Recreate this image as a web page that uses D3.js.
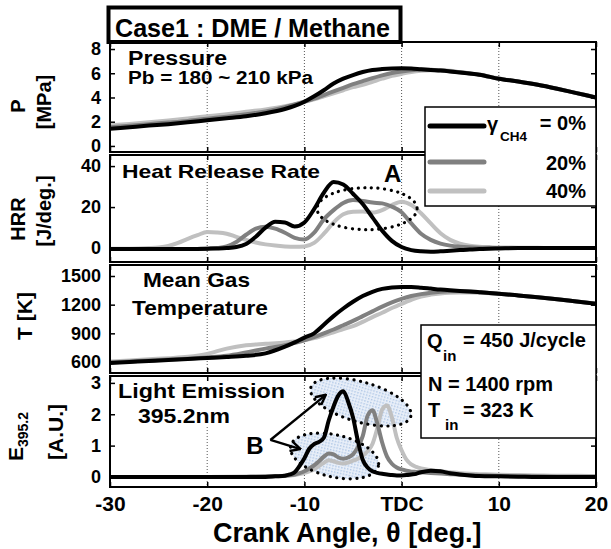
<!DOCTYPE html>
<html>
<head>
<meta charset="utf-8">
<script src="https://cdn.jsdelivr.net/npm/d3@7/dist/d3.min.js"></script>
<style>
  body { margin: 0; background: #fff; }
  svg { display: block; }
  text { font-family: "Liberation Sans", Arial, sans-serif; font-weight: bold; fill: #000; }
</style>
</head>
<body>
<svg id="chart" width="611" height="549"></svg>
<script>
// ---- data ----
var xTicks = [-30, -20, -10, 0, 10, 20];
var xTickLabels = ["-30", "-20", "-10", "TDC", "10", "20"];
var gridTicks = [-20, -10, 0, 10];
var seriesNames = ["0%", "20%", "40%"];

// pressure [MPa] and mean gas temperature [K] share this angle grid
var pTheta = [-30, -28, -26, -24, -22, -20, -18, -16, -14, -12, -11, -10, -9, -8, -7, -6, -5, -4, -3, -2, -1, 0, 1, 2, 3, 4, 5, 6, 7, 8, 10, 12, 14, 16, 18, 20];
var p0  = [1.42, 1.55, 1.68, 1.80, 1.95, 2.12, 2.28, 2.45, 2.70, 3.05, 3.30, 3.65, 4.10, 4.60, 5.15, 5.55, 5.85, 6.10, 6.27, 6.35, 6.40, 6.42, 6.40, 6.33, 6.27, 6.22, 6.15, 6.07, 5.98, 5.88, 5.55, 5.32, 5.05, 4.72, 4.36, 4.00];
var p20 = [1.55, 1.67, 1.80, 1.93, 2.07, 2.25, 2.42, 2.62, 2.85, 3.20, 3.42, 3.65, 3.90, 4.20, 4.50, 4.80, 5.10, 5.35, 5.60, 5.83, 6.02, 6.15, 6.25, 6.30, 6.29, 6.24, 6.17, 6.08, 5.98, 5.88, 5.55, 5.32, 5.05, 4.72, 4.36, 4.00];
var p40 = [1.70, 1.82, 1.95, 2.10, 2.27, 2.45, 2.62, 2.82, 3.02, 3.28, 3.45, 3.65, 3.85, 4.10, 4.35, 4.60, 4.85, 5.05, 5.30, 5.55, 5.78, 5.95, 6.10, 6.20, 6.25, 6.25, 6.20, 6.10, 6.00, 5.90, 5.57, 5.33, 5.06, 4.73, 4.37, 4.02];

var t0  = [590, 600, 610, 620, 632, 642, 652, 665, 690, 760, 805, 855, 900, 990, 1080, 1160, 1230, 1290, 1335, 1365, 1380, 1385, 1385, 1378, 1368, 1358, 1350, 1343, 1337, 1330, 1315, 1297, 1278, 1257, 1233, 1210];
var t20 = [595, 605, 615, 625, 635, 648, 665, 700, 740, 775, 800, 827, 860, 900, 940, 985, 1030, 1080, 1130, 1180, 1225, 1261, 1290, 1310, 1325, 1335, 1340, 1340, 1337, 1331, 1315, 1297, 1278, 1257, 1233, 1210];
var t40 = [605, 615, 628, 640, 655, 685, 740, 775, 790, 805, 815, 830, 850, 880, 910, 945, 975, 1020, 1070, 1115, 1165, 1209, 1250, 1285, 1305, 1318, 1325, 1328, 1328, 1325, 1315, 1297, 1278, 1257, 1234, 1212];

// heat release rate [J/deg.]
var hTheta = [-30, -28, -26, -25, -24, -23, -22, -21, -20, -19, -18, -17, -16, -15, -14, -13, -12, -11, -10, -9, -8, -7, -6, -5, -4, -3, -2, -1, 0, 1, 2, 3, 4, 5, 6, 7, 8, 9, 10, 12, 14, 16, 18, 20];
var h0  = [-0.5, -0.5, -0.5, -0.5, -0.5, -0.5, -0.5, -0.4, -0.3, -0.2, 0, 0.5, 2, 5.5, 10, 12.8, 12.5, 10.5, 12.5, 19, 27, 32.2, 31, 26.5, 21.5, 15, 8.5, 3.5, 0.5, -1, -1.6, -1.8, -1.6, -1.3, -1, -0.7, -0.5, -0.3, -0.2, 0, 0, 0, 0, 0];
var h20 = [-0.5, -0.5, -0.5, -0.5, -0.5, -0.5, -0.5, -0.4, -0.3, 0, 0.8, 3, 6.5, 9.5, 10.4, 9.5, 7.5, 5, 4.2, 7.5, 14, 18.5, 22, 23.4, 23, 22.2, 21.8, 20.2, 17.5, 12, 7, 4, 2.2, 1.2, 0.7, 0.4, 0.2, 0.1, 0, 0, 0, 0, 0, 0];
var h40 = [-0.3, -0.3, 0, 0.3, 1, 2.5, 4.5, 6.3, 7.8, 7.6, 7, 5.5, 4, 2.7, 1.8, 1.2, 0.8, 0.6, 0.8, 2.5, 7, 12.5, 16.5, 17.7, 17.8, 17.3, 18.5, 21, 22.6, 21, 17, 12, 7.2, 4, 2.2, 1.2, 0.7, 0.5, 0.3, 0.2, 0.1, 0, 0, 0];

// light emission at 395.2 nm [A.U.]
var eTheta = [-30, -25, -20, -16, -14, -13, -12, -11.5, -11, -10.5, -10, -9.5, -9, -8.5, -8, -7.5, -7, -6.5, -6, -5.5, -5, -4.5, -4, -3.5, -3, -2.5, -2, -1.5, -1, -0.5, 0, 0.5, 1, 1.5, 2, 3, 4, 5, 6, 7, 8, 10, 12, 14, 16, 18, 20];
var e0  = [0, 0, 0, 0, 0, 0.02, 0.04, 0.08, 0.15, 0.35, 0.6, 0.9, 1.05, 1.12, 1.25, 1.8, 2.25, 2.6, 2.73, 2.4, 1.9, 1.15, 0.55, 0.3, 0.18, 0.13, 0.1, 0.08, 0.06, 0.05, 0.05, 0.06, 0.08, 0.1, 0.15, 0.2, 0.18, 0.12, 0.08, 0.05, 0.03, 0.02, 0.01, 0, 0, 0, 0];
var e20 = [0, 0, 0, 0.01, 0.02, 0.03, 0.04, 0.06, 0.08, 0.12, 0.18, 0.27, 0.37, 0.5, 0.65, 0.75, 0.72, 0.62, 0.58, 0.62, 0.72, 0.95, 1.3, 1.95, 2.13, 1.7, 1.1, 0.65, 0.42, 0.3, 0.24, 0.2, 0.17, 0.16, 0.15, 0.13, 0.11, 0.09, 0.07, 0.06, 0.05, 0.03, 0.02, 0.02, 0.01, 0.01, 0.01];
var e40 = [0, 0, 0, 0, 0.01, 0.02, 0.03, 0.04, 0.06, 0.09, 0.13, 0.18, 0.25, 0.35, 0.45, 0.53, 0.5, 0.45, 0.43, 0.46, 0.52, 0.58, 0.68, 0.82, 1.05, 1.55, 2.15, 2.28, 1.9, 1.25, 0.85, 0.55, 0.4, 0.32, 0.27, 0.22, 0.18, 0.15, 0.12, 0.1, 0.09, 0.07, 0.06, 0.05, 0.04, 0.04, 0.03];

// ---- layout ----
var svg = d3.select("#chart");
var defs = svg.append("defs");
var x = d3.scaleLinear().domain([-30, 20]).range([110, 596]);
var lineColors = ["#000000", "#808080", "#c0c0c0"];   // 0%, 20%, 40%

var panels = [
  {y0: 42,  y1: 152, dom: [-0.5, 8.58],  ticks: [0, 2, 4, 6, 8],          theta: pTheta, series: [p0, p20, p40]},
  {y0: 155, y1: 262, dom: [-6.8, 45.4],  ticks: [0, 20, 40],             theta: hTheta, series: [h0, h20, h40]},
  {y0: 265, y1: 373, dom: [485, 1615],   ticks: [600, 900, 1200, 1500],  theta: pTheta, series: [t0, t20, t40]},
  {y0: 376, y1: 487, dom: [-0.32, 3.22], ticks: [0, 1, 2, 3],            theta: eTheta, series: [e0, e20, e40]}
];

var gridLayer = svg.append("g");
var underLayer = svg.append("g");
var curveLayer = svg.append("g");
var frameLayer = svg.append("g");
var overLayer = svg.append("g");

// stipple fill for the B regions
var pat = defs.append("pattern").attr("id", "stip").attr("width", 3).attr("height", 3)
  .attr("patternUnits", "userSpaceOnUse");
pat.append("rect").attr("width", 3).attr("height", 3).attr("fill", "#eaf0f9");
pat.append("rect").attr("width", 1.5).attr("height", 1.5).attr("fill", "#afc7e6");

defs.append("marker").attr("id", "arr").attr("viewBox", "0 0 12 12")
  .attr("refX", 11).attr("refY", 6).attr("markerWidth", 12).attr("markerHeight", 12)
  .attr("markerUnits", "userSpaceOnUse").attr("orient", "auto")
  .append("path").attr("d", "M1,1 L11,6 L1,11")
  .attr("fill", "none").attr("stroke", "#000").attr("stroke-width", 2.4);

panels.forEach(function(p, k) {
  var y = d3.scaleLinear().domain(p.dom).range([p.y1, p.y0]);
  p.y = y;

  defs.append("clipPath").attr("id", "clip" + k).append("rect")
    .attr("x", 110).attr("y", p.y0).attr("width", 486).attr("height", p.y1 - p.y0);

  gridLayer.append("g").selectAll("line").data(gridTicks).enter().append("line")
    .attr("x1", function(d) { return x(d); }).attr("x2", function(d) { return x(d); })
    .attr("y1", p.y0).attr("y2", p.y1)
    .attr("stroke", "#555").attr("stroke-width", 1).attr("stroke-dasharray", "1,2");

  var line = d3.line()
    .x(function(d, i) { return x(p.theta[i]); })
    .y(function(d) { return y(d); })
    .curve(d3.curveMonotoneX);

  // draw 40% first so black stays on top
  curveLayer.append("g").attr("clip-path", "url(#clip" + k + ")")
    .selectAll("path").data(p.series.slice().reverse()).enter().append("path")
    .attr("d", line)
    .attr("fill", "none")
    .attr("stroke", function(d, i) { return lineColors[2 - i]; })
    .attr("stroke-width", 4)
    .attr("stroke-linejoin", "round");

  // axes with inward ticks
  var ax = frameLayer.append("g");
  ax.append("g").attr("transform", "translate(110,0)")
    .call(d3.axisLeft(y).tickValues(p.ticks).tickSize(-5).tickPadding(9).tickFormat(d3.format("d")))
    .attr("font-size", null).attr("font-family", null)
    .selectAll("text").style("font-size", "18px");
  ax.append("g").attr("transform", "translate(596,0)")
    .call(d3.axisRight(y).tickValues(p.ticks).tickSize(-5).tickFormat(""));
  ax.append("g").attr("transform", "translate(0," + p.y0 + ")")
    .call(d3.axisTop(x).tickValues(xTicks).tickSize(-5).tickFormat(""));
  var bottom = d3.axisBottom(x).tickValues(xTicks).tickSize(-5).tickPadding(9)
    .tickFormat(function(d, i) { return k === panels.length - 1 ? xTickLabels[i] : ""; });
  ax.append("g").attr("transform", "translate(0," + p.y1 + ")").call(bottom)
    .attr("font-size", null).attr("font-family", null)
    .selectAll("text").style("font-size", "21px");
  ax.selectAll(".domain").remove();
  ax.selectAll(".tick line").attr("stroke", "#000").attr("stroke-width", 1.5);

  frameLayer.append("rect")
    .attr("x", 110).attr("y", p.y0).attr("width", 486).attr("height", p.y1 - p.y0)
    .attr("fill", "none").attr("stroke", "#000").attr("stroke-width", 2);
});

// ---- annotations ----
var P = panels;

// white box behind the light emission label
underLayer.append("rect").attr("x", 113).attr("y", 378).attr("width", 177).attr("height", 49).attr("fill", "#fff");

var blobsB = [
  {theta: -4.2, val: 2.39, rx: 52, ry: 20, rot: 16},
  {theta: -6.9, val: 0.67, rx: 45, ry: 21, rot: 13}
];
blobsB.forEach(function(b) {
  var t = "translate(" + x(b.theta) + "," + P[3].y(b.val) + ") rotate(" + b.rot + ")";
  underLayer.append("ellipse").attr("transform", t).attr("rx", b.rx).attr("ry", b.ry)
    .attr("fill", "url(#stip)");
  overLayer.append("ellipse").attr("transform", t).attr("rx", b.rx).attr("ry", b.ry)
    .attr("fill", "none").attr("stroke", "#000").attr("stroke-width", 3.2)
    .attr("stroke-linecap", "round").attr("stroke-dasharray", "0.1,6.5");
});

var ellipseA = {theta: -3.55, val: 19.2, rx: 50, ry: 21};
overLayer.append("ellipse")
  .attr("cx", x(ellipseA.theta)).attr("cy", P[1].y(ellipseA.val))
  .attr("rx", ellipseA.rx).attr("ry", ellipseA.ry)
  .attr("fill", "none").attr("stroke", "#000").attr("stroke-width", 3.2)
  .attr("stroke-linecap", "round").attr("stroke-dasharray", "0.1,6.5");
overLayer.append("text").attr("x", x(-0.93)).attr("y", P[1].y(32.3))
  .attr("text-anchor", "middle").style("font-size", "24px").text("A");

var arrowFrom = [-13.5, 1.18];
var arrowTo = [[-7.8, 2.62], [-10.4, 0.89]];
arrowTo.forEach(function(t) {
  overLayer.append("line")
    .attr("x1", x(arrowFrom[0])).attr("y1", P[3].y(arrowFrom[1]))
    .attr("x2", x(t[0])).attr("y2", P[3].y(t[1]))
    .attr("stroke", "#000").attr("stroke-width", 2.4).attr("marker-end", "url(#arr)");
});
overLayer.append("text").attr("x", x(-15.1)).attr("y", P[3].y(0.74))
  .attr("text-anchor", "middle").style("font-size", "24px").text("B");

// in-panel labels
function label(txt, px, py, size, len) {
  var t = overLayer.append("text").attr("x", px).attr("y", py).style("font-size", size + "px").text(txt);
  if (len) t.attr("textLength", len).attr("lengthAdjust", "spacingAndGlyphs");
  return t;
}
label("Pressure", 128, 65, 19.5, 99);
label("Pb = 180 ~ 210 kPa", 128, 84, 18, 185);
label("Heat Release Rate", 122, 178, 19, 198);
label("Mean Gas", 143, 287, 21, 107);
label("Temperature", 132, 315, 21, 136);
label("Light Emission", 118, 398, 21, 167);
label("395.2nm", 138, 423, 21, 92);

// title box
overLayer.append("rect").attr("x", 108.5).attr("y", 7.5).attr("width", 292).attr("height", 34.5)
  .attr("fill", "#fff").attr("stroke", "#000").attr("stroke-width", 4);
label("Case1 : DME / Methane", 115, 37, 25.5, 275);

// legend
overLayer.append("rect").attr("x", 425).attr("y", 107).attr("width", 171).attr("height", 99)
  .attr("fill", "#fff").attr("stroke", "#000").attr("stroke-width", 1.5);
var legY = [126, 162, 191];
overLayer.selectAll(".leg").data(seriesNames).enter().append("line")
  .attr("x1", 430).attr("x2", 484)
  .attr("y1", function(d, i) { return legY[i]; }).attr("y2", function(d, i) { return legY[i]; })
  .attr("stroke", function(d, i) { return lineColors[i]; })
  .attr("stroke-width", 5).attr("stroke-linecap", "round");
label("\u03b3", 487, 131, 20);
label("CH4", 500, 141, 13.5);
overLayer.selectAll(".legtxt").data(seriesNames).enter().append("text")
  .attr("x", 586).attr("y", function(d, i) { return [130, 170, 198][i]; })
  .attr("text-anchor", "end").style("font-size", "20px")
  .text(function(d, i) { return i === 0 ? "= " + d : d; });

// operating condition box
overLayer.append("rect").attr("x", 421).attr("y", 325).attr("width", 175).attr("height", 113)
  .attr("fill", "#fff").attr("stroke", "#000").attr("stroke-width", 1.5);
label("Q", 427, 348, 20);
label("in", 443, 361, 15);
label("= 450 J/cycle", 463, 347, 20);
label("N = 1400 rpm", 428, 391, 20);
label("T", 428, 417, 20);
label("in", 445, 430, 15);
label("= 323 K", 463, 417, 20);

// axis titles
label("Crank Angle, \u03b8 [deg.]", 213, 542, 27);

function ylab(txt, bx, cy, size) {
  return overLayer.append("text")
    .attr("transform", "translate(" + bx + "," + cy + ") rotate(-90)")
    .attr("text-anchor", "middle").style("font-size", size + "px").text(txt);
}
ylab("P", 25, 106, 20);
ylab("[MPa]", 51, 102, 20);
ylab("HRR", 25, 219, 20);
ylab("[J/deg.]", 51, 211, 20);
ylab("T [K]", 32, 316, 21);
var eLab = overLayer.append("text")
  .attr("transform", "translate(23,461) rotate(-90)").style("font-size", "21px");
eLab.append("tspan").text("E");
eLab.append("tspan").attr("dy", 5).style("font-size", "14px").text("395.2");
ylab("[A.U.]", 63, 432, 21);
</script>
</body>
</html>
